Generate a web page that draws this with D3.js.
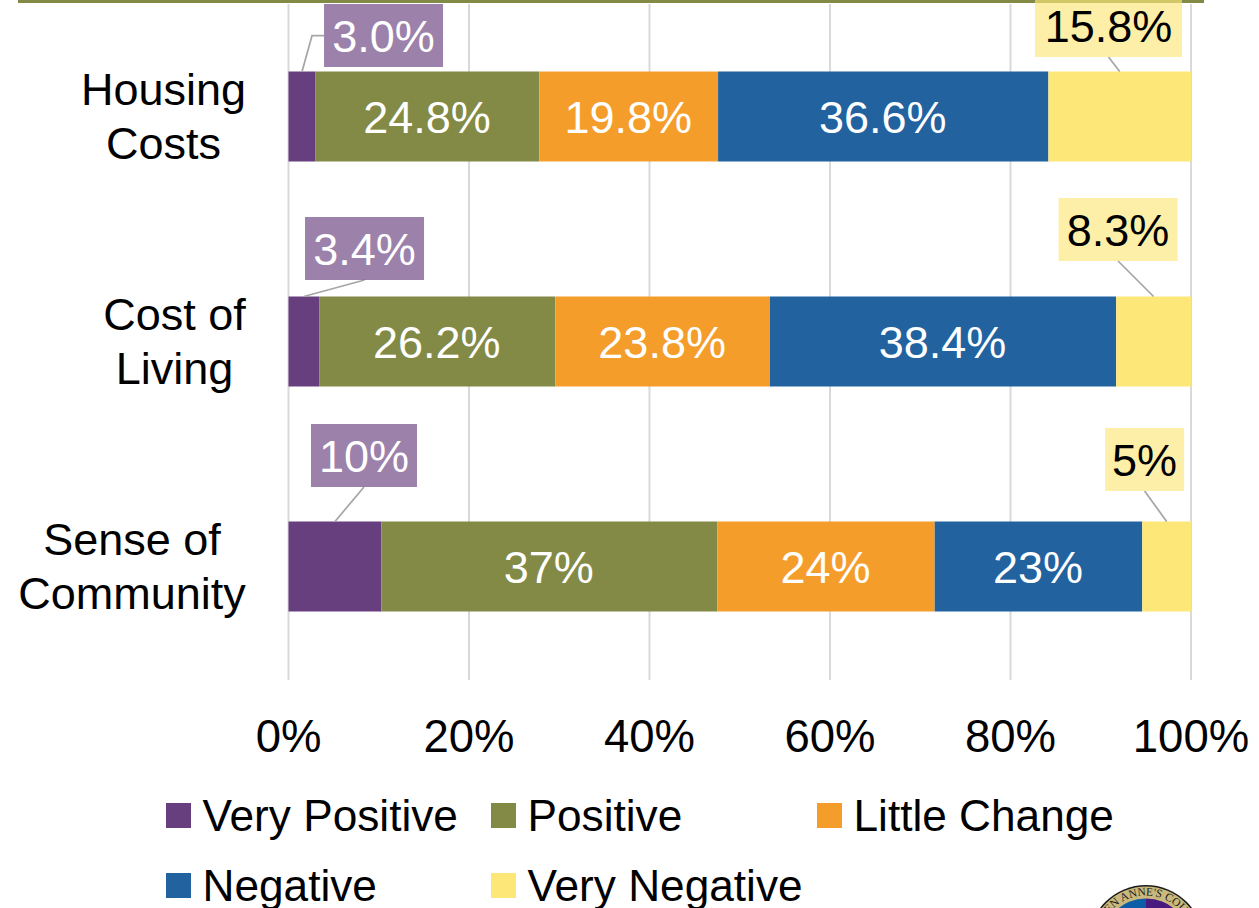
<!DOCTYPE html>
<html>
<head>
<meta charset="utf-8">
<style>
  html, body { margin: 0; padding: 0; background: #fff; overflow: hidden; }
  svg { display: block; }
  text { font-family: "Liberation Sans", Arial, sans-serif; }
</style>
</head>
<body>
<div id="chart-area"></div>
<script src="https://cdn.jsdelivr.net/npm/d3@7/dist/d3.min.js"></script>
<script>
// data
const categories = ["Housing Costs", "Cost of Living", "Sense of Community"]
const categoryLines = [["Housing", "Costs"], ["Cost of", "Living"], ["Sense of", "Community"]]
const seriesNames = ["Very Positive", "Positive", "Little Change", "Negative", "Very Negative"]
// the last row is printed as whole numbers, its values here are measured from the bar lengths
const veryPositive = [3.0, 3.4, 10.3]
const positive = [24.8, 26.2, 37.2]
const littleChange = [19.8, 23.8, 24.1]
const negative = [36.6, 38.4, 23.0]
const veryNegative = [15.8, 8.3, 5.4]
// printed labels
const veryPositiveLabels = ["3.0%", "3.4%", "10%"]
const positiveLabels = ["24.8%", "26.2%", "37%"]
const littleChangeLabels = ["19.8%", "23.8%", "24%"]
const negativeLabels = ["36.6%", "38.4%", "23%"]
const veryNegativeLabels = ["15.8%", "8.3%", "5%"]
const xTicks = [0, 0.2, 0.4, 0.6, 0.8, 1]

const colors = ["#673e7e", "#828a46", "#f59d2a", "#22639f", "#fde779"]
const seriesValues = [veryPositive, positive, littleChange, negative, veryNegative]
const seriesLabels = [veryPositiveLabels, positiveLabels, littleChangeLabels, negativeLabels, veryNegativeLabels]

const WIDTH = 1259
const HEIGHT = 908

const svg = d3.select("#chart-area").append("svg")
    .attr("width", WIDTH)
    .attr("height", HEIGHT)

// olive rule at the very top
svg.append("rect")
    .attr("x", 18).attr("y", 0)
    .attr("width", 1186).attr("height", 3)
    .attr("fill", "#828a46")

// scales
const x = d3.scaleLinear().domain([0, 1]).range([288.5, 1191])
const y = d3.scaleBand().domain(categories).range([4, 679]).paddingInner(0.6).paddingOuter(0.3)

// x axis, ticks double as the grid
const xAxisCall = d3.axisBottom(x)
    .tickValues(xTicks)
    .tickSize(676)
    .tickFormat(d3.format(".0%"))

const xAxis = svg.append("g")
    .attr("class", "x axis")
    .attr("transform", "translate(-0.5, 4)")
    .call(xAxisCall)
xAxis.select(".domain").remove()
xAxis.selectAll("line").attr("stroke", "#d9d9d9").attr("stroke-width", 2)
xAxis.selectAll("text")
    .attr("y", 752 - 4)
    .attr("dy", 0)
    .attr("x", 0)
    .style("font-size", "45.5px")
    .style("font-family", '"Liberation Sans", Arial, sans-serif')
    .attr("fill", "#000")

// stacked rows, normalised to 100% like the original
const rows = categories.map((c, i) => {
    const row = { category: c }
    seriesNames.forEach((s, j) => { row[s] = seriesValues[j][i] })
    return row
})
const stacked = d3.stack().keys(seriesNames).offset(d3.stackOffsetExpand)(rows)

const groups = svg.selectAll(".series")
    .data(stacked)
    .enter().append("g")
    .attr("class", "series")
    .attr("fill", (d, i) => colors[i])

groups.selectAll("rect")
    .data(d => d)
    .enter().append("rect")
    .attr("x", d => x(d[0]))
    .attr("y", d => y(d.data.category))
    .attr("width", d => x(d[1]) - x(d[0]))
    .attr("height", y.bandwidth())

// labels inside the three middle segments
const labels = svg.append("g").attr("class", "labels")
stacked.slice(1, 4).forEach((s, k) => {
    s.forEach((d, i) => {
        labels.append("text")
            .attr("x", x((d[0] + d[1]) / 2) - 0.5)
            .attr("y", y(d.data.category) + y.bandwidth() / 2 + 16.5)
            .attr("text-anchor", "middle")
            .attr("fill", "#fff")
            .style("font-size", "45px")
            .text(seriesLabels[k + 1][i])
    })
})

// callouts for the two end segments: offset from the segment's top centre to the box centre
const calloutBoxes = [
    { s: 0, row: 0, dx: 81.5, dy: -36, w: 119, elbow: true },
    { s: 0, row: 1, dx: 60.7, dy: -48, w: 119 },
    { s: 0, row: 2, dx: 29, dy: -66, w: 106 },
    { s: 4, row: 0, dx: -11.2, dy: -46, w: 147 },
    { s: 4, row: 1, dx: -35.5, dy: -67, w: 119 },
    { s: 4, row: 2, dx: -22, dy: -62, w: 79 }
]
const boxH = 63

const callouts = svg.append("g").attr("class", "callouts")
calloutBoxes.forEach(c => {
    const d = stacked[c.s][c.row]
    const cx = x((d[0] + d[1]) / 2)
    const top = y(categories[c.row])
    const bx = cx + c.dx
    const by = top + c.dy
    const isPurple = c.s === 0

    const pts = c.elbow
        ? [[cx, top], [cx + 10, by], [bx - c.w / 2, by]]
        : [[cx, top], [bx, by + boxH / 2]]
    callouts.append("path")
        .attr("d", d3.line()(pts))
        .attr("fill", "none")
        .attr("stroke", "#a6a6a6")
        .attr("stroke-width", 1.75)

    callouts.append("rect")
        .attr("x", bx - c.w / 2)
        .attr("y", by - boxH / 2)
        .attr("width", c.w)
        .attr("height", boxH)
        .attr("fill", isPurple ? "#673e7e" : "#fde779")
        .attr("fill-opacity", 0.65)

    callouts.append("text")
        .attr("x", bx)
        .attr("y", by + 16.5)
        .attr("text-anchor", "middle")
        .attr("fill", isPurple ? "#fff" : "#000")
        .style("font-size", "45px")
        .text(seriesLabels[c.s][c.row])
})

// category names, two centred lines pushed against the right edge
const catLabels = svg.append("g").attr("class", "categories")
categories.forEach((c, i) => {
    const g = catLabels.append("g")
    const mid = y(c) + y.bandwidth() / 2
    categoryLines[i].forEach((line, j) => {
        g.append("text")
            .attr("y", mid - 11.5 + j * 54)
            .attr("text-anchor", "middle")
            .attr("fill", "#000")
            .style("font-size", "45px")
            .text(line)
    })
    g.attr("transform", `translate(${246 - g.node().getBBox().width / 2}, 0)`)
})

// legend
const legendX = [166, 491, 817]
const legendY = [803, 873]
const legend = svg.append("g").attr("class", "legend")
seriesNames.forEach((s, i) => {
    const lx = legendX[i % 3]
    const ly = legendY[Math.floor(i / 3)]
    legend.append("rect")
        .attr("x", lx).attr("y", ly)
        .attr("width", 25).attr("height", 25)
        .attr("fill", colors[i])
    legend.append("text")
        .attr("x", lx + 36.5)
        .attr("y", ly + 28)
        .attr("fill", "#000")
        .style("font-size", "44.2px")
        .text(s)
})

// college seal, cut off by the bottom of the page
const seal = svg.append("g")
    .attr("class", "seal")
    .attr("transform", "translate(1146, 942.5)")
seal.append("circle").attr("r", 57.5).attr("fill", "#1a1a1a")
seal.append("circle").attr("r", 56).attr("fill", "#c9b97c")
seal.append("path")
    .attr("d", d3.arc().innerRadius(0).outerRadius(44).startAngle(-Math.PI).endAngle(0)())
    .attr("fill", "#0d5ea6")
seal.append("path")
    .attr("d", d3.arc().innerRadius(0).outerRadius(44).startAngle(0).endAngle(Math.PI)())
    .attr("fill", "#4b1a7f")
seal.append("path")
    .attr("id", "seal-arc")
    .attr("d", "M -47 0 A 47 47 0 0 1 47 0")
    .attr("fill", "none")
seal.append("text")
    .style("font-family", '"Liberation Serif", serif')
    .style("font-size", "11.5px")
    .attr("fill", "#1a1a1a")
    .append("textPath")
    .attr("href", "#seal-arc")
    .attr("startOffset", "50%")
    .attr("text-anchor", "middle")
    .text("QUEEN ANNE'S COUNTY")
</script>
</body>
</html>
